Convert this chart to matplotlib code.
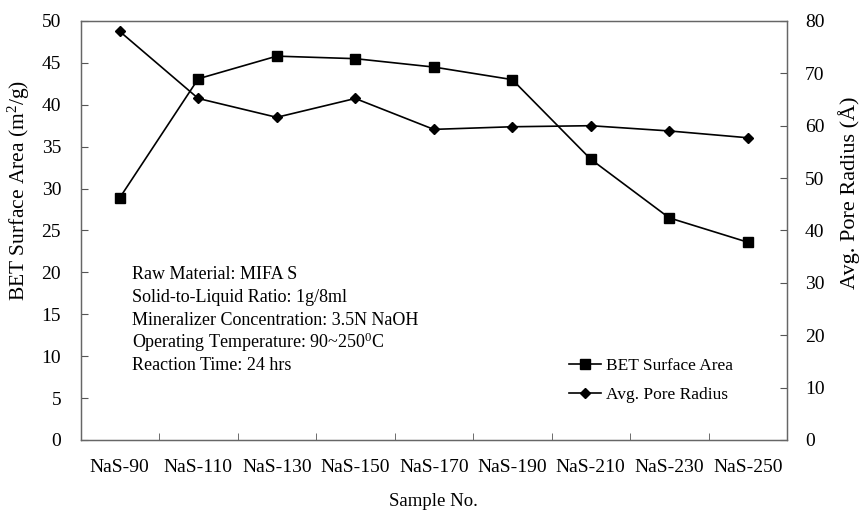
import numpy as np
import matplotlib
matplotlib.use("Agg")
import matplotlib.pyplot as plt

plt.rcParams['font.family'] = ['Liberation Serif', 'DejaVu Serif']
plt.rcParams['mathtext.fontset'] = 'custom'
plt.rcParams['mathtext.rm'] = 'Liberation Serif'
plt.rcParams['mathtext.it'] = 'Liberation Serif:italic'

samples = ["NaS-90", "NaS-110", "NaS-130", "NaS-150", "NaS-170",
           "NaS-190", "NaS-210", "NaS-230", "NaS-250"]
bet_area = [28.9, 43.1, 45.8, 45.5, 44.5, 43.0, 33.5, 26.5, 23.6]
pore_radius = [78.0, 65.2, 61.6, 65.2, 59.3, 59.8, 60.0, 59.0, 57.7]

notes = ["Raw Material: MIFA S",
         "Solid-to-Liquid Ratio: 1g/8ml",
         "Mineralizer Concentration: 3.5N NaOH",
         "Operating Temperature: 90~250$^{0}$C",
         "Reaction Time: 24 hrs"]

fig = plt.figure(figsize=(8.62, 5.11), dpi=100)
ax = fig.add_axes([0.0934, 0.139, 0.8196, 0.820])
ax2 = ax.twinx()

x = np.arange(len(samples))
l1, = ax.plot(x, bet_area, color='black', lw=1.2, marker='s', ms=7,
              label="BET Surface Area")
l2, = ax2.plot(x, pore_radius, color='black', lw=1.2, marker='D', ms=5.5,
               label="Avg. Pore Radius")

ax.set_xlim(-0.5, len(samples) - 0.5)
ax.set_ylim(0, 50)
ax2.set_ylim(0, 80)
ax.set_yticks(np.arange(0, 51, 5))
ax2.set_yticks(np.arange(0, 81, 10))
ax.set_xticks(x)
ax.set_xticklabels(samples)
ax.set_xticks(x[:-1] + 0.5, minor=True)

ax.tick_params(axis='x', which='major', length=0, pad=14, labelsize=14)
ax.tick_params(axis='x', which='minor', direction='in', length=5,
               color='#555555')
ax.tick_params(axis='y', direction='in', length=5, color='#555555',
               labelsize=14, pad=14)
ax2.tick_params(axis='y', direction='in', length=5, color='#555555',
                labelsize=14, pad=13)

for a in (ax, ax2):
    for s in a.spines.values():
        s.set_color('#666666')
        s.set_linewidth(0.9)

ax.set_ylabel("BET Surface Area (m$^{2}$/g)", fontsize=15.5, labelpad=6)
ax.yaxis.set_label_coords(-0.068, 0.595)
ax2.set_ylabel("Avg. Pore Radius (Å)", fontsize=16, labelpad=6)
ax2.yaxis.set_label_coords(1.073, 0.59)
ax.set_xlabel("Sample No.", fontsize=13.5, labelpad=12)

y0 = 0.394
for i, t in enumerate(notes):
    ax.text(0.073, y0 - i * 0.054, t, transform=ax.transAxes,
            fontsize=13, va='center', ha='left')

ax.legend(handles=[l1, l2], loc='lower left', bbox_to_anchor=(0.67, 0.05),
          frameon=False, fontsize=12.5, handlelength=1.8, handletextpad=0.3,
          labelspacing=0.75)

fig.savefig("out.png", dpi=100)
